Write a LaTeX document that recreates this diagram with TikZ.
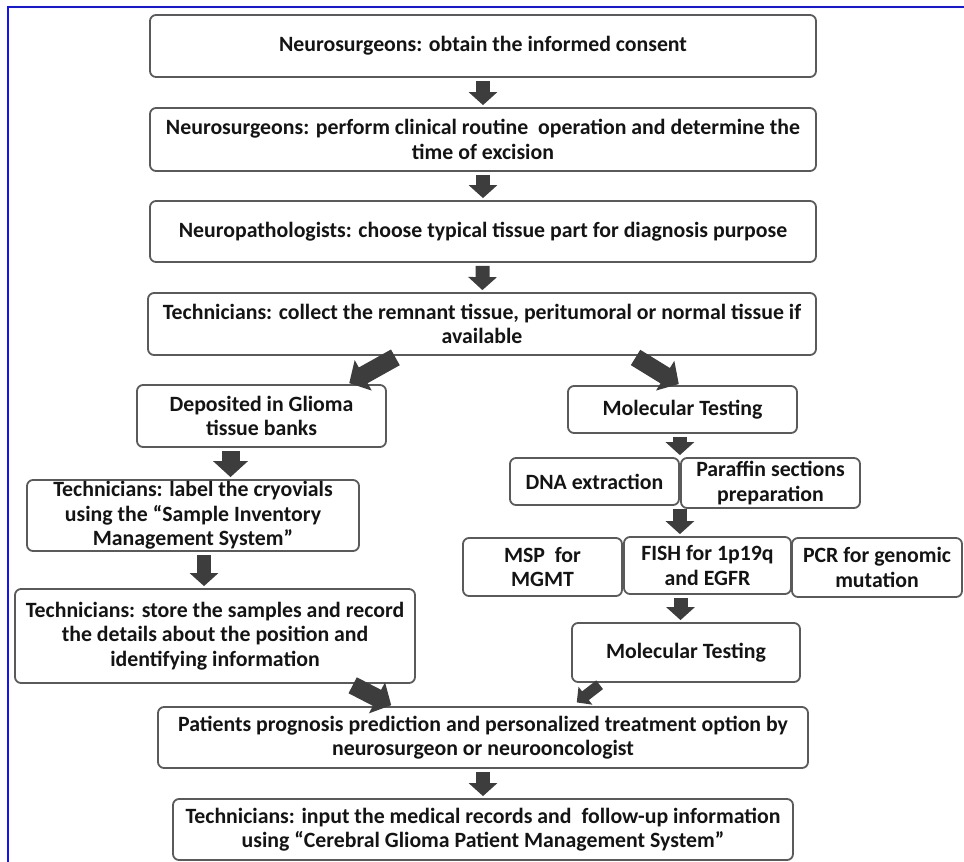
\documentclass[tikz,border=0pt]{standalone}
\usepackage{fontspec}
\setmainfont{Carlito}
\usetikzlibrary{arrows.meta}
\definecolor{FlowFrame}{HTML}{1414F0}
\definecolor{FlowEdge}{HTML}{5A5A5A}
\definecolor{FlowArrow}{HTML}{3D3D3D}
\definecolor{FlowText}{HTML}{141414}
\tikzset{
  stage/.style={draw=FlowEdge,line width=1.8pt,rounded corners=6pt,fill=white,align=center,inner sep=0pt,text=FlowText,font=\fontsize{21.8}{24.5}\selectfont\bfseries},
  blockarrow/.style={draw=FlowArrow,line width=14pt,-{Triangle[length=13pt,width=28pt]},shorten <=3pt,shorten >=2pt},
  widearrow/.style={blockarrow,line width=18pt,-{Triangle[length=16pt,width=34pt]}},
  slimarrow/.style={blockarrow,line width=11pt,-{Triangle[length=11pt,width=22pt]}}
}

\begin{document}
\begin{tikzpicture}[x=1pt,y=-1pt]
  \useasboundingbox (0,0) rectangle (964,862);
  \draw[FlowFrame,line width=2.5pt] (8,862) -- (8,7) -- (964,7);

  % main column
  \node[stage,minimum width=666pt,minimum height=62pt] (consent) at (483,46)
    {Neurosurgeons: obtain the informed consent};
  \node[stage,minimum width=666pt,minimum height=63pt] (surgery) at (483,139.5)
    {Neurosurgeons: perform clinical routine\ \ operation and determine the\\time of excision};
  \node[stage,minimum width=666pt,minimum height=61pt] (choose) at (483,231.5)
    {Neuropathologists: choose typical tissue part for diagnosis purpose};
  \node[stage,minimum width=668pt,minimum height=62pt] (collect) at (482,324)
    {Technicians: collect the remnant tissue, peritumoral or normal tissue if\\available};

  % tissue bank branch
  \node[stage,minimum width=249pt,minimum height=62pt] (bank) at (261.5,416)
    {Deposited in Glioma\\tissue banks};
  \node[stage,minimum width=332pt,minimum height=71pt] (vials) at (193,515.5)
    {Technicians: label the cryovials\\using the “Sample Inventory\\Management System”};
  \node[stage,minimum width=400pt,minimum height=94pt] (store) at (215,636)
    {Technicians: store the samples and record\\the details about the position and\\identifying information};

  % molecular branch
  \node[stage,minimum width=229pt,minimum height=47pt] (moltest) at (682.5,409.5)
    {Molecular Testing};
  \node[stage,minimum width=169pt,minimum height=47pt] (dna) at (594.5,481.5)
    {DNA extraction};
  \node[stage,minimum width=179pt,minimum height=50pt] (paraffin) at (770.5,483)
    {Paraffin sections\\preparation};
  \node[stage,minimum width=159pt,minimum height=58pt] (msp) at (542.5,567)
    {MSP\ \ for\\MGMT};
  \node[stage,minimum width=167pt,minimum height=57pt] (fish) at (707.5,565.5)
    {FISH for 1p19q\\and EGFR};
  \node[stage,minimum width=170pt,minimum height=59pt] (pcr) at (877,567.5)
    {PCR for genomic\\mutation};
  \node[stage,minimum width=228pt,minimum height=59pt] (moltestb) at (686,652.5)
    {Molecular Testing};

  % outcome
  \node[stage,minimum width=650pt,minimum height=61pt] (prognosis) at (483,737.5)
    {Patients prognosis prediction and personalized treatment option by\\neurosurgeon or neurooncologist};
  \node[stage,minimum width=620pt,minimum height=61pt] (records) at (483,829.5)
    {Technicians: input the medical records and\ \ follow-up information\\using “Cerebral Glioma Patient Management System”};

  \draw[blockarrow] (consent) -- (surgery);
  \draw[blockarrow] (surgery) -- (choose);
  \draw[blockarrow] (choose) -- (collect);

  \draw[widearrow] ([xshift=-84pt]collect.south) -- ([xshift=86pt]bank.north);
  \draw[widearrow] ([xshift=151pt]collect.south) -- ([xshift=-2pt]moltest.north);

  \draw[widearrow] ([xshift=-31pt]bank.south) -- ([xshift=-31pt]bank.south |- vials.north);
  \draw[blockarrow] ([xshift=11pt]vials.south) -- ([xshift=11pt]vials.south |- store.north);

  \draw[blockarrow] (moltest.south -| dna.north east) -- (dna.north east);
  \draw[blockarrow] (dna.south east) -- (dna.south east |- fish.north);
  \draw[blockarrow] ([xshift=-27pt]fish.south) -- ([xshift=-27pt]fish.south |- moltestb.north);

  \draw[widearrow] ([xshift=135pt]store.south) -- ([xshift=-90pt]prognosis.north);
  \draw[slimarrow,shorten >=6pt] ([xshift=-84pt]moltestb.south) -- ([xshift=89pt]prognosis.north);
  \draw[blockarrow] (prognosis) -- (records);
\end{tikzpicture}
\end{document}
